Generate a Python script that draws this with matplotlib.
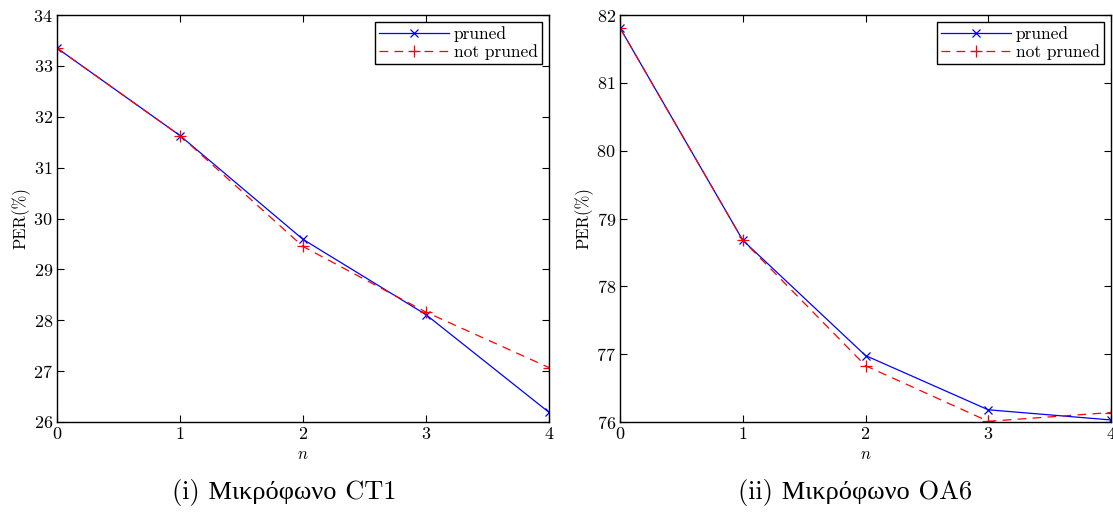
import matplotlib
matplotlib.use('Agg')
import matplotlib.pyplot as plt

plt.rcParams['font.family'] = ['cmr10', 'Liberation Serif']
plt.rcParams['mathtext.fontset'] = 'cm'
plt.rcParams['axes.formatter.use_mathtext'] = True

n = [0, 1, 2, 3, 4]

ct1_pruned = [33.35, 31.63, 29.59, 28.11, 26.19]
ct1_not_pruned = [33.35, 31.63, 29.45, 28.16, 27.07]

oa6_pruned = [81.81, 78.68, 76.98, 76.18, 76.03]
oa6_not_pruned = [81.81, 78.68, 76.83, 76.01, 76.14]

captions = ['(i) Μικρόφωνο CT1', '(ii) Μικρόφωνο OA6']
ylims = [(26, 34), (76, 82)]

fig = plt.figure(figsize=(11.13, 5.16), dpi=100)
W, H = 1113, 516
boxes = [(57, 549), (620, 1111)]
caption_x = [284, 855]
top, bottom = 15, 422

panels = [(ct1_pruned, ct1_not_pruned), (oa6_pruned, oa6_not_pruned)]

for i, ((x0, x1), (pr, npr)) in enumerate(zip(boxes, panels)):
    ax = fig.add_axes([x0 / W, 1 - bottom / H, (x1 - x0) / W, (bottom - top) / H])
    ax.plot(n, pr, color='blue', marker='x', linestyle='-', linewidth=0.9,
            markersize=6, markeredgewidth=0.9, label='pruned')
    ax.plot(n, npr, color='red', marker='+', linestyle=(0, (7, 5)), linewidth=0.9,
            markersize=8, markeredgewidth=0.9, label='not pruned')
    ax.set_xlim(0, 4)
    ax.set_ylim(*ylims[i])
    ax.set_xticks(n)
    ax.tick_params(direction='in', top=True, right=True, labelsize=13,
                   length=5, width=0.8, pad=3)
    for sp in ax.spines.values():
        sp.set_linewidth(1.0)
    ax.set_ylabel('PER(%)', fontsize=12, labelpad=2)
    ax.set_xlabel('$n$', fontsize=12, labelpad=3)
    leg = ax.legend(loc='upper right', fontsize=12.5, fancybox=False, framealpha=1,
                    edgecolor='black', borderpad=0.25, labelspacing=0.1,
                    handlelength=4.0, handletextpad=0.3, borderaxespad=0.4)
    leg.get_frame().set_linewidth(1.0)
    fig.text(caption_x[i] / W, 1 - 492 / H, captions[i], fontsize=19,
             ha='center', va='center')

fig.savefig('out.png', dpi=100)
